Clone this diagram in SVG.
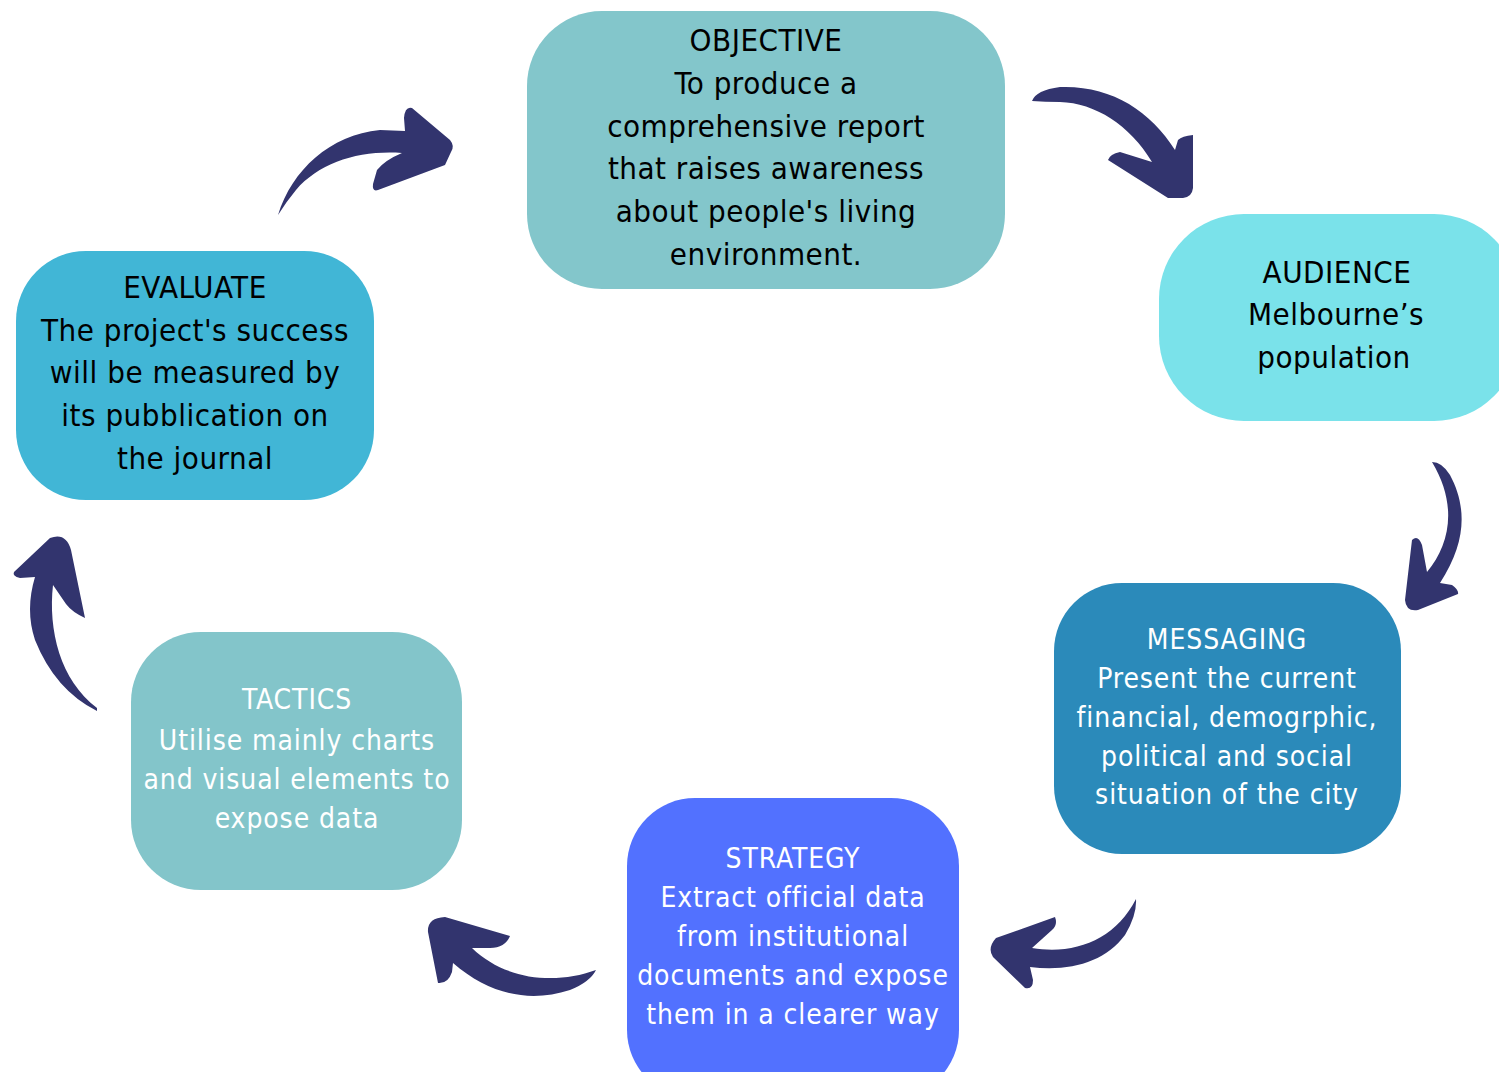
<svg xmlns="http://www.w3.org/2000/svg" width="1499" height="1072" viewBox="0 0 1499 1072">
  <style>
    .lbl { font-family: "DejaVu Sans", "Liberation Sans", sans-serif; font-stretch: condensed; text-anchor: middle; }
    .big { font-size: 31px; letter-spacing: 0.5px; }
    .small { font-size: 28px; letter-spacing: 0.9px; }
    .dark { fill: #000000; }
    .light { fill: #ffffff; }
    .arrow { fill: #32346E; }
  </style>
  <rect width="1499" height="1072" fill="#ffffff"/>

  <g id="objective">
    <rect x="527" y="11" width="478" height="278" rx="75" fill="#83C6CB"/>
    <text class="lbl big dark" x="766" y="51">OBJECTIVE</text>
    <text class="lbl big dark" x="766" y="94">To produce a</text>
    <text class="lbl big dark" x="766" y="137">comprehensive report</text>
    <text class="lbl big dark" x="766" y="179">that raises awareness</text>
    <text class="lbl big dark" x="766" y="222">about people's living</text>
    <text class="lbl big dark" x="766" y="265">environment.</text>
  </g>

  <g id="audience">
    <rect x="1159" y="214" width="360" height="207" rx="85" fill="#7AE2EA"/>
    <text class="lbl big dark" x="1337" y="283">AUDIENCE</text>
    <text class="lbl big dark" x="1336" y="325">Melbourne’s</text>
    <text class="lbl big dark" x="1334" y="368">population</text>
  </g>

  <g id="messaging">
    <rect x="1054" y="583" width="347" height="271" rx="68" fill="#2B8ABA"/>
    <text class="lbl small light" x="1227" y="649">MESSAGING</text>
    <text class="lbl small light" x="1227" y="688">Present the current</text>
    <text class="lbl small light" x="1227" y="727">financial, demogrphic,</text>
    <text class="lbl small light" x="1227" y="766">political and social</text>
    <text class="lbl small light" x="1227" y="804">situation of the city</text>
  </g>

  <g id="strategy">
    <rect x="627" y="798" width="332" height="300" rx="68" fill="#5271FF"/>
    <text class="lbl small light" x="793" y="868">STRATEGY</text>
    <text class="lbl small light" x="793" y="907">Extract official data</text>
    <text class="lbl small light" x="793" y="946">from institutional</text>
    <text class="lbl small light" x="793" y="985">documents and expose</text>
    <text class="lbl small light" x="793" y="1024">them in a clearer way</text>
  </g>

  <g id="tactics">
    <rect x="131" y="632" width="331" height="258" rx="70" fill="#83C5CA"/>
    <text class="lbl small light" x="297" y="709">TACTICS</text>
    <text class="lbl small light" x="297" y="750">Utilise mainly charts</text>
    <text class="lbl small light" x="297" y="789">and visual elements to</text>
    <text class="lbl small light" x="297" y="828">expose data</text>
  </g>

  <g id="evaluate">
    <rect x="16" y="251" width="358" height="249" rx="70" fill="#41B6D6"/>
    <text class="lbl big dark" x="195" y="298">EVALUATE</text>
    <text class="lbl big dark" x="195" y="341">The project's success</text>
    <text class="lbl big dark" x="195" y="383">will be measured by</text>
    <text class="lbl big dark" x="195" y="426">its pubblication on</text>
    <text class="lbl big dark" x="195" y="469">the journal</text>
  </g>

  <g id="connectors">
    <!-- objective to audience -->
    <path class="arrow" d="M 1032 101 Q 1036 90 1060 87 C 1110 85 1150 110 1175 150 L 1178 140 Q 1182 136 1193 135 L 1193 188 Q 1192 197 1183 198 L 1168 198 L 1108 160 Q 1110 154 1120 152 L 1152 162 C 1130 125 1095 103 1060 102 Q 1045 102 1032 101 Z"/>
    <!-- audience to messaging -->
    <path class="arrow" d="M 1432 462 Q 1442 462 1450 475 C 1466 505 1468 540 1440 583 L 1452 585 Q 1459 590 1458 594 L 1418 610 Q 1406 612 1405 600 L 1412 540 Q 1418 534 1422 545 L 1427 572 C 1450 545 1458 505 1432 462 Z"/>
    <!-- messaging to strategy -->
    <path class="arrow" d="M 1136 899 Q 1137 915 1125 935 C 1105 962 1070 972 1030 967 L 1033 980 Q 1033 990 1025 988 L 993 957 Q 987 948 996 938 L 1055 917 Q 1058 925 1052 930 L 1032 948 C 1075 955 1115 940 1136 899 Z"/>
    <!-- strategy to tactics -->
    <path class="arrow" d="M 596 970 Q 590 982 570 990 C 530 1003 490 995 453 963 L 452 972 Q 448 984 438 983 L 428 932 Q 427 918 445 917 L 510 936 Q 505 948 490 948 L 472 948 C 505 980 555 985 596 970 Z"/>
    <!-- tactics to evaluate -->
    <path class="arrow" d="M 97 711 Q 55 690 35 640 Q 25 610 35 577 L 20 578 Q 12 576 14 572 L 50 538 Q 66 532 71 550 L 85 618 Q 72 612 66 604 L 53 585 C 48 630 60 680 97 708 Z"/>
    <!-- evaluate to objective -->
    <path class="arrow" d="M 278 215 C 292 170 330 135 380 130 L 405 131 L 404 118 Q 405 106 412 108 L 450 140 Q 455 146 451 152 L 445 165 L 378 190 Q 372 192 373 184 L 377 170 Q 385 160 402 153 C 360 150 320 162 296 190 Q 286 202 278 215 Z"/>
  </g>
</svg>
